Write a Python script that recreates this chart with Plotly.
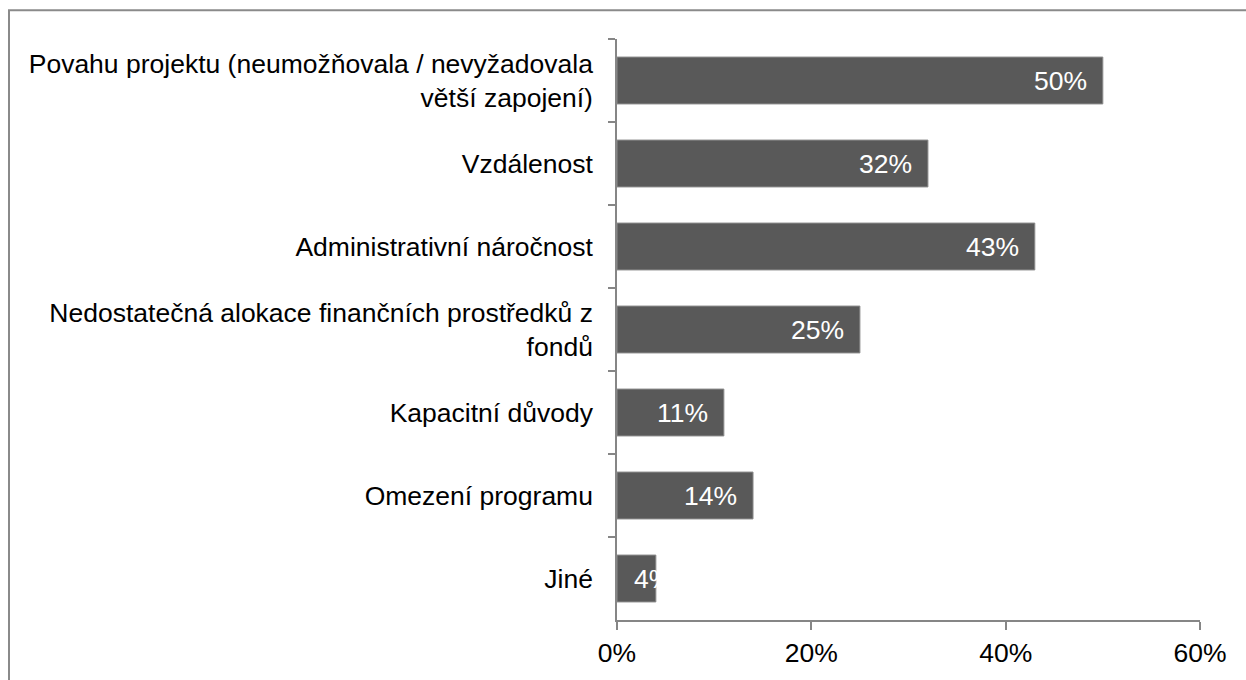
import plotly.graph_objects as go

categories = [
    "Povahu projektu (neumožňovala / nevyžadovala<br>větší zapojení)",
    "Vzdálenost",
    "Administrativní náročnost",
    "Nedostatečná alokace finančních prostředků z<br>fondů",
    "Kapacitní důvody",
    "Omezení programu",
    "Jiné",
]
values = [50, 32, 43, 25, 11, 14, 4]
x_ticks = [0, 20, 40, 60]
x_tick_labels = ["0%", "20%", "40%", "60%"]

W, H = 1246, 680
L, R, T, B = 617, 46, 39, 57
FONT = "Liberation Sans, Arial, sans-serif"
FS = 26.5

fig = go.Figure()
fig.add_trace(go.Bar(
    y=categories,
    x=values,
    orientation="h",
    marker=dict(color="#595959", line=dict(color="#8c8c8c", width=1)),
    hoverinfo="skip",
))

annotations = []
for c, v in zip(categories, values):
    if v < 6:
        annotations.append(dict(x=0, y=c, xref="x", yref="y", text=f"{v}%",
                                showarrow=False, xanchor="left", xshift=15,
                                font=dict(color="white", size=FS, family=FONT)))
    else:
        annotations.append(dict(x=v, y=c, xref="x", yref="y", text=f"{v}%",
                                showarrow=False, xanchor="right", xshift=-14,
                                font=dict(color="white", size=FS, family=FONT)))

pw = W - L - R
ph = H - T - B
def px_x(p):
    return (p - L) / pw
def px_y(p):
    return (H - B - p) / ph

fig.add_shape(type="rect", xref="paper", yref="paper",
              x0=px_x(9), x1=px_x(1270), y0=px_y(700), y1=px_y(10),
              line=dict(color="#8a8a8a", width=2), fillcolor="rgba(0,0,0,0)", layer="below")

fig.update_layout(
    width=W, height=H,
    margin=dict(l=L, r=R, t=T, b=B, pad=0),
    paper_bgcolor="white", plot_bgcolor="white",
    bargap=0.435,
    showlegend=False,
    font=dict(family=FONT, size=FS, color="black"),
    annotations=annotations,
    xaxis=dict(
        range=[0, 60], tickvals=x_ticks, ticktext=x_tick_labels,
        showgrid=False, zeroline=False, showline=True, linecolor="#868686", linewidth=1.5,
        ticks="outside", ticklen=8, tickcolor="#868686", tickwidth=1.5,
        tickfont=dict(size=FS, family=FONT, color="black"),
        fixedrange=True,
    ),
    yaxis=dict(
        autorange="reversed", type="category",
        showgrid=False, zeroline=False, showline=True, linecolor="#868686", linewidth=1.5,
        ticks="outside", ticklen=7, tickcolor="#868686", tickwidth=1.5, tickson="boundaries",
        tickfont=dict(size=FS, family=FONT, color="black"),
        ticklabelstandoff=17,
        fixedrange=True,
    ),
)

fig.write_html("out.html", config={"displayModeBar": False},
               post_script="document.body.style.margin='0';document.body.style.overflow='hidden';")
